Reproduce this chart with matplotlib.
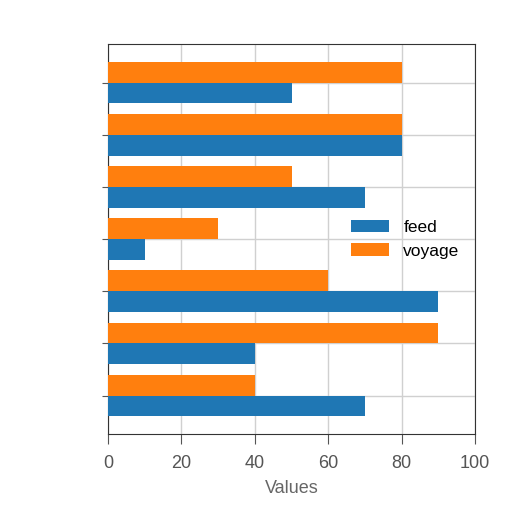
import matplotlib
matplotlib.use("Agg")
import matplotlib.pyplot as plt
import numpy as np

plt.rcParams["font.family"] = ["Liberation Sans", "DejaVu Sans"]

categories = ["c1", "c2", "c3", "c4", "c5", "c6", "c7"]  # bottom to top
feed = [70, 40, 90, 10, 70, 80, 50]
voyage = [40, 90, 60, 30, 50, 80, 80]
x_ticks = [0, 20, 40, 60, 80, 100]

fig = plt.figure(figsize=(5.12, 5.12), dpi=100)
ax = fig.add_axes([0.211, 0.152, 0.717, 0.762])
y = np.arange(len(categories))
h = 0.4
ax.barh(y - h / 2, feed, height=h, color="#1f77b4", label="feed", zorder=3)
ax.barh(y + h / 2, voyage, height=h, color="#ff7f0e", label="voyage", zorder=3)
ax.set_xlim(0, 100)
ax.set_xticks(x_ticks)
ax.set_yticks(y)
ax.set_yticklabels([""] * len(categories))
ax.grid(True, color="#d0d0d0", linewidth=1, zorder=0)
ax.set_axisbelow(True)
ax.tick_params(axis="x", labelsize=13, colors="#555555", labelcolor="#555555",
               length=7, pad=8)
ax.tick_params(axis="y", colors="#555555", length=4)
ax.set_xlabel("Values", fontsize=13, color="#666666", labelpad=6)
for s in ax.spines.values():
    s.set_color("#333333")
ax.legend(loc="center right", frameon=False, fontsize=12.5, handlelength=2.2)
fig.savefig("out.png", dpi=100)
